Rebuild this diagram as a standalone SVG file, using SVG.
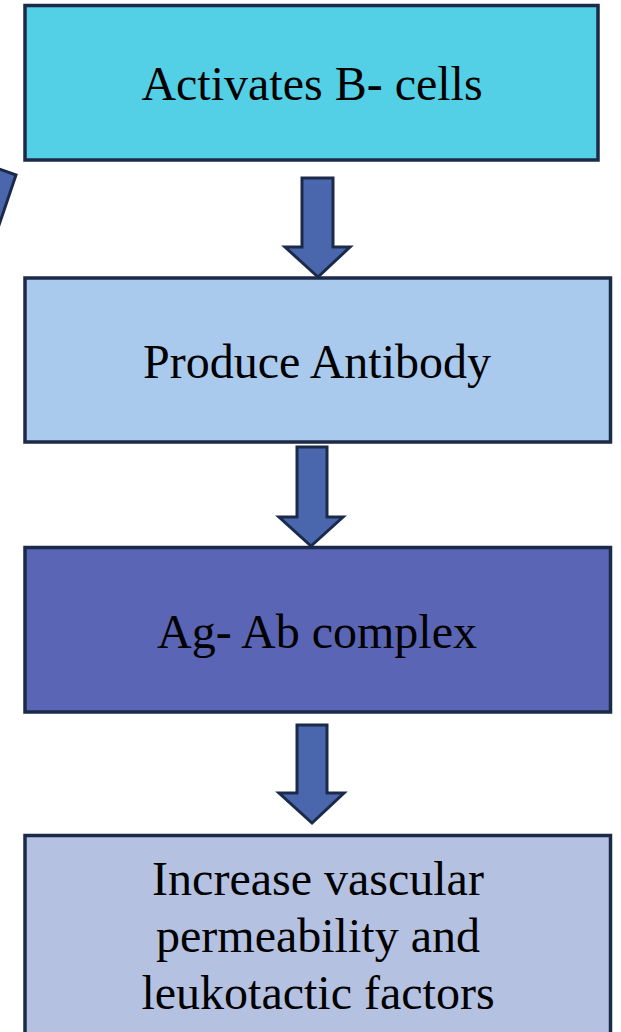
<svg xmlns="http://www.w3.org/2000/svg" width="621" height="1032" viewBox="0 0 621 1032">
<style>
.box{stroke:#1c2a4a;stroke-width:3.5;stroke-linejoin:miter}
.arr{fill:#4a67ae;stroke:#1c2a4a;stroke-width:3;stroke-linejoin:miter}
.t{font-family:"Liberation Serif","Times New Roman",serif;font-size:48px;fill:#000;text-anchor:middle}
</style>
<rect width="621" height="1032" fill="#ffffff"/>
<g id="connectors">
<polygon class="arr" points="-20,162 16,175 -2,228 -30,218"/>
<polygon class="arr" points="302,178 333,178 333,247 350,247 318,277 285,247 302,247"/>
<polygon class="arr" points="297,447 327,447 327,517 343,517 311,546 279,517 297,517"/>
<polygon class="arr" points="297,725 327,725 327,793 344,793 312,823 279,793 297,793"/>
</g>
<g id="node1">
<rect class="box" x="25" y="5.5" width="573" height="154.5" fill="#53cfe6"/>
<text class="t" x="312" y="100">Activates B- cells</text>
</g>
<g id="node2">
<rect class="box" x="25" y="278" width="585.5" height="164" fill="#a9caec"/>
<text class="t" x="317" y="378">Produce Antibody</text>
</g>
<g id="node3">
<rect class="box" x="25" y="547.5" width="585.5" height="164.5" fill="#5b65b5"/>
<text class="t" x="317" y="648">Ag- Ab complex</text>
</g>
<g id="node4">
<rect class="box" x="25" y="835.5" width="585.5" height="210" fill="#b4c1e0"/>
<text class="t" x="318" y="895">Increase vascular</text>
<text class="t" x="318" y="952">permeability and</text>
<text class="t" x="318" y="1009">leukotactic factors</text>
</g>
</svg>
